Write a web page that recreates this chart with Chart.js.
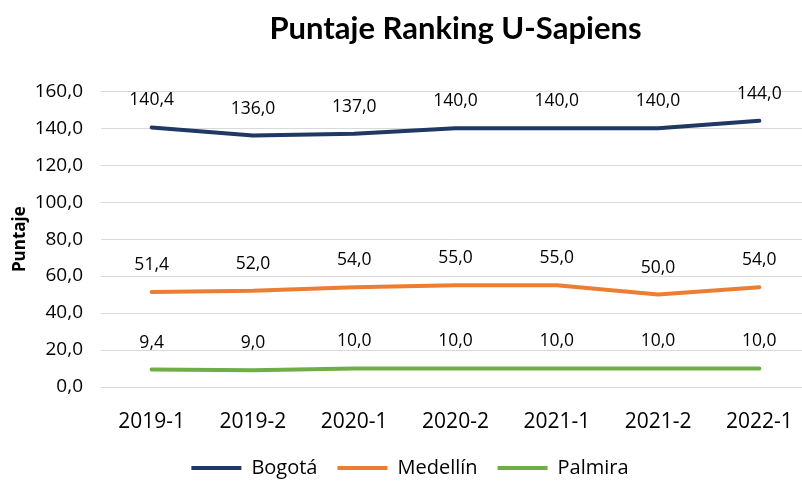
<!DOCTYPE html>
<html>
<head>
<meta charset="utf-8">
<script src="https://cdn.jsdelivr.net/npm/chart.js@4.4.0/dist/chart.umd.min.js"></script>
<style>
html,body{margin:0;padding:0;background:#fff;overflow:hidden;}
#wrap{position:relative;width:810px;height:482px;}
</style>
</head>
<body>
<div id="wrap"><canvas id="c"></canvas></div>
<script>
const categories = ["2019-1","2019-2","2020-1","2020-2","2021-1","2021-2","2022-1"];
const bogota = [140.4,136.0,137.0,140.0,140.0,140.0,144.0];
const medellin = [51.4,52.0,54.0,55.0,55.0,50.0,54.0];
const palmira = [9.4,9.0,10.0,10.0,10.0,10.0,10.0];
const seriesNames = ["Bogotá","Medellín","Palmira"];
const yTicks = [0,20,40,60,80,100,120,140,160];

const fmt = v => v.toFixed(1).replace('.', ',');
const FONT = "'Open Sans', 'Liberation Sans', sans-serif";

const labelPlugin = {
  id: 'dlabels',
  afterDatasetsDraw(chart) {
    const ctx = chart.ctx;
    ctx.save();
    ctx.font = "17.5px " + FONT;
    ctx.fillStyle = "#000";
    ctx.textAlign = "center";
    ctx.textBaseline = "middle";
    chart.data.datasets.forEach((ds, i) => {
      const meta = chart.getDatasetMeta(i);
      meta.data.forEach((pt, j) => {
        ctx.fillText(fmt(ds.data[j]), pt.x, pt.y - 27);
      });
    });
    ctx.restore();
  }
};

new Chart(document.getElementById('c'), {
  type: 'line',
  data: {
    labels: categories,
    datasets: [
      {label: seriesNames[0], data: bogota, borderColor: '#203864', backgroundColor: '#203864'},
      {label: seriesNames[1], data: medellin, borderColor: '#ED7D31', backgroundColor: '#ED7D31'},
      {label: seriesNames[2], data: palmira, borderColor: '#70AD47', backgroundColor: '#70AD47'}
    ].map(d => Object.assign(d, {borderWidth: 4, pointRadius: 0, tension: 0, borderCapStyle: 'round', borderJoinStyle: 'round'}))
  },
  options: {
    responsive: true,
    maintainAspectRatio: false,
    animation: false,
    layout: {padding: {left: 10, right: 0, top: 8, bottom: -6}},
    plugins: {
      title: {
        display: true,
        text: 'Puntaje Ranking U-Sapiens',
        fullSize: false,
        color: '#000',
        font: {family: "Lato, 'Open Sans', sans-serif", size: 31, weight: 'bold'},
        padding: {top: 2, bottom: 44}
      },
      legend: {
        position: 'bottom',
        labels: {
          color: '#000',
          font: {family: FONT, size: 20},
          boxWidth: 50,
          boxHeight: 4,
          padding: 20,
          generateLabels(chart) {
            return chart.data.datasets.map((d, i) => ({
              text: d.label, fillStyle: d.borderColor, strokeStyle: d.borderColor,
              lineWidth: 0, datasetIndex: i, fontColor: '#000'
            }));
          }
        }
      },
      tooltip: {enabled: false}
    },
    scales: {
      x: {
        offset: true,
        grid: {display: false},
        border: {display: false},
        afterFit(scale) { scale.height = 51; },
        ticks: {color: '#000', font: {family: FONT, size: 21}, padding: 14, maxRotation: 0}
      },
      y: {
        min: 0, max: 160,
        afterBuildTicks(scale) { scale.ticks = yTicks.map(v => ({value: v})); },
        afterFit(scale) { scale.width = 91; },
        grid: {color: '#d9d9d9', lineWidth: 1, drawTicks: false},
        border: {display: false},
        ticks: {color: '#000', font: {family: FONT, size: 19}, padding: 18, callback: v => fmt(v)},
        title: {display: true, text: 'Puntaje', color: '#000', font: {family: FONT, size: 17, weight: 'bold'}, padding: {top: 0, bottom: 2}}
      }
    }
  },
  plugins: [labelPlugin]
});
</script>
</body>
</html>
